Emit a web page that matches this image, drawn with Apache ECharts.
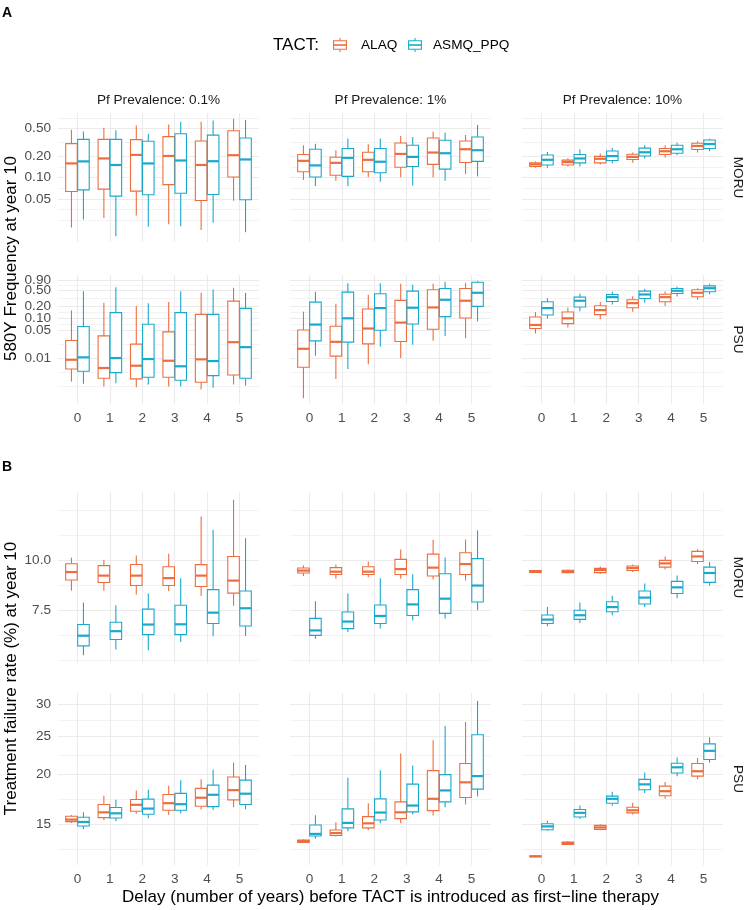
<!DOCTYPE html>
<html><head><meta charset="utf-8">
<script src="https://cdn.jsdelivr.net/npm/echarts@6/dist/echarts.min.js"></script>
<style>html,body{margin:0;padding:0;background:#fff}#c{width:750px;height:910px}</style>
</head><body><div id="c"></div>
<script>
// ---------------- data ----------------
const delays = [0, 1, 2, 3, 4, 5];
const prevalenceLabels = ['Pf Prevalence: 0.1%', 'Pf Prevalence: 1%', 'Pf Prevalence: 10%'];
const siteLabels = ['MORU', 'PSU'];
const tactNames = ['ALAQ', 'ASMQ_PPQ'];
const freqBreaks = [0.01, 0.05, 0.1, 0.2, 0.5, 0.9];
const failBreaks = [7.5, 10, 15, 20, 25, 30];

// each entry: [lower whisker, Q1, median, Q3, upper whisker] for delay 0..5
// A: 580Y frequency at year 10
const freq_MORU_01_ALAQ = [[0.0195,0.0633,0.159,0.304,0.479],[0.0267,0.0685,0.187,0.35,0.511],[0.029,0.0641,0.210,0.347,0.551],[0.0217,0.0794,0.203,0.382,0.569],[0.0179,0.0473,0.151,0.331,0.621],[0.0468,0.102,0.208,0.464,0.684]];
const freq_MORU_01_ASMQ = [[0.0253,0.0669,0.170,0.35,0.453],[0.0147,0.0545,0.151,0.35,0.473],[0.020,0.0569,0.159,0.328,0.415],[0.0203,0.060,0.175,0.421,0.621],[0.0227,0.0574,0.171,0.402,0.648],[0.0167,0.0484,0.181,0.365,0.662]];
const freq_MORU_1_ALAQ = [[0.0925,0.121,0.173,0.213,0.288],[0.0904,0.108,0.162,0.195,0.245],[0.102,0.121,0.179,0.229,0.297],[0.101,0.140,0.217,0.310,0.389],[0.101,0.154,0.227,0.365,0.449],[0.112,0.164,0.253,0.331,0.402]];
const freq_MORU_1_ASMQ = [[0.0762,0.102,0.149,0.253,0.304],[0.0762,0.104,0.191,0.259,0.361],[0.0875,0.117,0.168,0.259,0.361],[0.0769,0.144,0.197,0.288,0.377],[0.0904,0.132,0.222,0.339,0.435],[0.104,0.170,0.245,0.377,0.563]];
const freq_MORU_10_ALAQ = [[0.138,0.144,0.154,0.162,0.170],[0.144,0.151,0.166,0.177,0.189],[0.154,0.162,0.185,0.200,0.220],[0.162,0.181,0.197,0.215,0.227],[0.193,0.213,0.237,0.259,0.288],[0.227,0.251,0.282,0.308,0.328]];
const freq_MORU_10_ASMQ = [[0.138,0.151,0.179,0.210,0.232],[0.144,0.162,0.187,0.213,0.253],[0.159,0.175,0.202,0.239,0.264],[0.187,0.203,0.229,0.262,0.288],[0.208,0.222,0.253,0.288,0.314],[0.237,0.259,0.300,0.342,0.358]];
const freq_PSU_01_ALAQ = [[0.00256,0.0053,0.00907,0.0277,0.158],[0.00192,0.00311,0.00562,0.0361,0.247],[0.00185,0.00299,0.00642,0.0224,0.203],[0.00192,0.00329,0.00856,0.0455,0.256],[0.00161,0.00247,0.00928,0.126,0.439],[0.00215,0.00376,0.0251,0.271,0.586]];
const freq_PSU_01_ASMQ = [[0.00224,0.00465,0.0104,0.062,0.482],[0.00233,0.00429,0.0100,0.139,0.606],[0.00215,0.00329,0.00944,0.0708,0.241],[0.00192,0.00277,0.0062,0.139,0.482],[0.00178,0.00361,0.0084,0.126,0.531],[0.00203,0.00311,0.0188,0.178,0.439]];
const freq_PSU_1_ALAQ = [[0.00098,0.00586,0.0171,0.051,0.147],[0.00299,0.0112,0.0256,0.063,0.233],[0.00696,0.0228,0.0553,0.171,0.391],[0.0100,0.0262,0.078,0.282,0.737],[0.0271,0.053,0.188,0.522,0.737],[0.0316,0.1017,0.277,0.562,0.781]];
const freq_PSU_1_ASMQ = [[0.0114,0.0271,0.0696,0.256,0.465],[0.0053,0.0251,0.100,0.455,0.763],[0.0196,0.050,0.181,0.415,0.763],[0.0215,0.072,0.185,0.482,0.696],[0.0361,0.110,0.293,0.562,0.827],[0.084,0.1995,0.439,0.808,0.876]];
const freq_PSU_10_ALAQ = [[0.0415,0.0553,0.068,0.108,0.144],[0.0586,0.0737,0.100,0.144,0.188],[0.0944,0.124,0.161,0.208,0.256],[0.147,0.185,0.241,0.293,0.361],[0.203,0.262,0.341,0.405,0.473],[0.293,0.349,0.439,0.522,0.572]];
const freq_PSU_10_ASMQ = [[0.0984,0.121,0.181,0.262,0.322],[0.150,0.192,0.277,0.341,0.415],[0.224,0.266,0.341,0.398,0.465],[0.247,0.316,0.398,0.482,0.553],[0.355,0.422,0.493,0.562,0.620],[0.405,0.465,0.572,0.657,0.737]];

// B: treatment failure rate (%) at year 10
const fail_MORU_01_ALAQ = [[8.40,8.93,9.35,9.81,10.16],[8.40,8.80,9.16,9.70,10.02],[8.21,8.65,9.16,9.77,10.29],[8.37,8.65,9.03,9.64,10.39],[8.14,8.60,9.16,9.76,12.88],[7.70,8.28,8.90,10.23,14.18]];
const fail_MORU_01_ASMQ = [[5.79,6.11,6.48,6.91,7.84],[5.98,6.34,6.65,7.00,7.72],[5.96,6.52,6.91,7.55,8.26],[6.25,6.52,6.92,7.72,9.02],[6.46,6.95,7.40,8.45,11.93],[6.47,6.85,7.59,8.38,11.37]];
const fail_MORU_1_ALAQ = [[9.14,9.30,9.43,9.57,9.72],[9.00,9.22,9.37,9.59,9.76],[9.07,9.22,9.37,9.64,9.94],[9.00,9.22,9.51,10.06,10.65],[8.96,9.14,9.59,10.37,11.27],[8.90,9.22,9.79,10.45,11.28]];
const fail_MORU_1_ASMQ = [[6.37,6.49,6.68,7.16,7.90],[6.62,6.75,7.03,7.43,8.26],[6.75,6.95,7.26,7.73,9.02],[7.07,7.28,7.76,8.45,9.23],[7.15,7.37,8.02,9.26,10.17],[7.50,7.87,8.65,10.10,11.89]];
const fail_MORU_10_ALAQ = [[9.32,9.33,9.39,9.43,9.46],[9.29,9.32,9.39,9.45,9.49],[9.24,9.32,9.46,9.55,9.66],[9.35,9.43,9.57,9.68,9.76],[9.49,9.62,9.83,10.00,10.23],[9.79,9.94,10.23,10.53,10.67]];
const fail_MORU_10_ASMQ = [[6.84,6.95,7.11,7.30,7.64],[6.97,7.12,7.29,7.50,7.84],[7.29,7.44,7.64,7.88,8.16],[7.64,7.78,8.07,8.38,8.75],[8.04,8.26,8.56,8.86,9.16],[8.65,8.81,9.30,9.62,9.90]];
const fail_PSU_01_ALAQ = [[15.15,15.26,15.44,15.74,15.86],[15.41,15.62,16.10,16.84,17.71],[15.96,16.20,16.81,17.34,18.26],[15.86,16.29,16.97,17.84,18.76],[16.36,16.67,17.51,18.48,19.46],[16.58,17.30,18.29,19.72,21.43]];
const fail_PSU_01_ASMQ = [[14.63,14.88,15.23,15.65,16.10],[15.32,15.59,16.01,16.55,17.30],[15.55,15.92,16.45,17.37,18.34],[15.99,16.29,16.87,17.95,19.35],[16.35,16.64,17.81,18.83,20.59],[16.39,16.84,17.92,19.38,21.14]];
const fail_PSU_1_ALAQ = [[13.51,13.54,13.65,13.73,13.78],[14.01,14.09,14.29,14.55,15.20],[14.55,14.72,15.11,15.71,16.97],[15.11,15.53,16.10,17.10,22.59],[15.80,16.26,17.40,20.46,24.37],[16.84,17.53,19.13,21.31,27.07]];
const fail_PSU_1_ASMQ = [[13.83,14.05,14.22,14.97,15.83],[14.43,14.72,15.15,16.42,19.65],[15.11,15.41,16.08,17.40,20.51],[15.92,16.14,16.74,18.94,21.07],[16.58,17.10,18.26,20.00,26.45],[17.64,18.40,19.83,25.15,30.57]];
const fail_PSU_10_ALAQ = [[12.44,12.47,12.50,12.53,12.56],[13.34,13.38,13.49,13.57,13.65],[14.52,14.60,14.76,14.94,15.02],[15.89,16.05,16.29,16.58,17.00],[17.40,17.71,18.18,18.72,19.16],[19.46,19.83,20.39,21.31,22.00]];
const fail_PSU_10_ASMQ = [[14.49,14.57,14.85,15.08,15.35],[15.50,15.68,16.05,16.36,16.74],[16.71,16.97,17.40,17.67,18.13],[17.98,18.34,18.91,19.46,20.23],[19.80,20.18,20.86,21.35,22.06],[21.43,21.82,22.93,23.87,24.77]];

// ---------------- layout / style ----------------
const FONT = '"Liberation Sans", Arial, Helvetica, sans-serif';
const COLORS = ['#EE6D3F', '#1AA9CC'];
const GRID_COLOR = '#EBEBEB';
const SMALL = 13.6, BIG = 17;
const colLeft = [58, 290, 522];
const colWidth = 201;
const rowTop = [113, 275, 492, 693];
const rowHeight = [129, 129, 171, 172];

const rows = [
  { breaks: freqBreaks, dec: 2, panels: [[freq_MORU_01_ALAQ, freq_MORU_01_ASMQ], [freq_MORU_1_ALAQ, freq_MORU_1_ASMQ], [freq_MORU_10_ALAQ, freq_MORU_10_ASMQ]], xLabels: false },
  { breaks: freqBreaks, dec: 2, panels: [[freq_PSU_01_ALAQ, freq_PSU_01_ASMQ], [freq_PSU_1_ALAQ, freq_PSU_1_ASMQ], [freq_PSU_10_ALAQ, freq_PSU_10_ASMQ]], xLabels: true },
  { breaks: failBreaks, dec: 1, panels: [[fail_MORU_01_ALAQ, fail_MORU_01_ASMQ], [fail_MORU_1_ALAQ, fail_MORU_1_ASMQ], [fail_MORU_10_ALAQ, fail_MORU_10_ASMQ]], xLabels: false },
  { breaks: failBreaks, dec: 0, panels: [[fail_PSU_01_ALAQ, fail_PSU_01_ASMQ], [fail_PSU_1_ALAQ, fail_PSU_1_ASMQ], [fail_PSU_10_ALAQ, fail_PSU_10_ASMQ]], xLabels: true }
];

function rowLimits(row) {
  let lo = Infinity, hi = -Infinity;
  row.panels.forEach(p => p.forEach(s => s.forEach(b => b.forEach(v => {
    const l = Math.log10(v); if (l < lo) lo = l; if (l > hi) hi = l;
  }))));
  const e = (hi - lo) * 0.05;
  return [Math.pow(10, lo - e), Math.pow(10, hi + e)];
}
function minorBreaks(majors, lo, hi) {
  let b = majors.map(Math.log10);
  const L = Math.log10(lo), H = Math.log10(hi);
  const bd = b[1] - b[0];
  if (L < b[0]) b = [b[0] - bd].concat(b);
  if (H > b[b.length - 1]) b = b.concat([b[b.length - 1] + bd]);
  const out = [];
  for (let i = 0; i < b.length - 1; i++) { out.push(b[i], (b[i] + b[i + 1]) / 2); }
  out.push(b[b.length - 1]);
  return out.map(v => Math.pow(10, v)).filter(v => v >= lo && v <= hi && !majors.some(m => Math.abs(m - v) / m < 1e-6));
}

const BOX_OFF = 0.185, BOX_HALF = 0.178;
function makeRender(off, color) {
  return function (params, api) {
    const x = api.value(0) + off;
    const v = [api.value(1), api.value(2), api.value(3), api.value(4), api.value(5)];
    const p = v.map(val => api.coord([x, val]));
    const left = api.coord([x - BOX_HALF, v[2]])[0];
    const right = api.coord([x + BOX_HALF, v[2]])[0];
    const cx = p[0][0];
    return {
      type: 'group', children: [
        { type: 'line', shape: { x1: cx, y1: p[4][1], x2: cx, y2: p[3][1] }, style: { stroke: color, lineWidth: 1.1 } },
        { type: 'line', shape: { x1: cx, y1: p[1][1], x2: cx, y2: p[0][1] }, style: { stroke: color, lineWidth: 1.1 } },
        { type: 'rect', shape: { x: left, y: p[3][1], width: right - left, height: Math.max(p[1][1] - p[3][1], 0.5) }, style: { fill: '#fff', stroke: color, lineWidth: 1.1 } },
        { type: 'line', shape: { x1: left, y1: p[2][1], x2: right, y2: p[2][1] }, style: { stroke: color, lineWidth: 2.2 } }
      ]
    };
  };
}

const grids = [], xAxes = [], yAxes = [], series = [];
rows.forEach((row, r) => {
  const [lo, hi] = rowLimits(row);
  const majors = row.breaks.filter(b => b >= lo && b <= hi);
  const minors = minorBreaks(majors, lo, hi);
  // split major labels over the two stacked axes so neighbours never collide
  const labelsA = majors.filter((m, i) => i % 2 === 0);
  const labelsB = majors.filter((m, i) => i % 2 === 1);
  const fmt = v => Number(v).toFixed(row.dec);
  row.panels.forEach((panel, c) => {
    const g = grids.length;
    grids.push({ left: colLeft[c], top: rowTop[r], width: colWidth, height: rowHeight[r], containLabel: false, outerBoundsMode: 'none' });
    xAxes.push({
      type: 'value', gridIndex: g, min: -0.6, max: 5.6,
      axisLine: { show: false }, axisTick: { show: false, customValues: delays },
      axisLabel: { show: row.xLabels, customValues: delays, hideOverlap: false, color: '#4D4D4D', fontSize: SMALL, fontFamily: FONT, margin: 7, formatter: v => String(v) },
      splitLine: { show: true, lineStyle: { color: GRID_COLOR, width: 1.1 } }
    });
    yAxes.push({
      type: 'log', logBase: 10, gridIndex: g, position: 'left', offset: 0, min: lo, max: hi,
      axisLine: { show: false }, axisTick: { show: false, customValues: majors },
      axisLabel: { show: c === 0, customValues: labelsA, hideOverlap: false, color: '#4D4D4D', fontSize: SMALL, fontFamily: FONT, margin: 7, formatter: fmt },
      splitLine: { show: true, lineStyle: { color: GRID_COLOR, width: 1.1 } }
    });
    yAxes.push({
      type: 'log', logBase: 10, gridIndex: g, position: 'left', offset: 0, min: lo, max: hi,
      axisLine: { show: false }, axisTick: { show: false, customValues: minors },
      axisLabel: { show: c === 0, customValues: labelsB, hideOverlap: false, color: '#4D4D4D', fontSize: SMALL, fontFamily: FONT, margin: 7, formatter: fmt },
      splitLine: { show: true, lineStyle: { color: GRID_COLOR, width: 0.6 } }
    });
    panel.forEach((stats, s) => {
      series.push({
        type: 'custom', name: tactNames[s], xAxisIndex: g, yAxisIndex: 2 * g, z: 5,
        renderItem: makeRender(s === 0 ? -BOX_OFF : BOX_OFF, COLORS[s]),
        encode: { x: 0, y: [1, 2, 3, 4, 5] },
        data: delays.map((d, i) => [d].concat(stats[i])),
        silent: true
      });
    });
  });
});

// ---------------- text & legend ----------------
const graphic = [];
function txt(text, x, y, opt) {
  opt = opt || {};
  graphic.push({
    type: 'text', x: x, y: y, rotation: opt.rot || 0, silent: true,
    style: { text: text, fill: opt.fill || '#000', font: (opt.weight || 'normal') + ' ' + (opt.size || SMALL) + 'px ' + FONT, align: opt.align || 'center', verticalAlign: 'middle' }
  });
}
txt('A', 2, 13, { weight: 'bold', size: 14, align: 'left' });
txt('B', 2, 467, { weight: 'bold', size: 14, align: 'left' });
// legend
txt('TACT:', 273, 45, { size: BIG, align: 'left' });
const legendIcons = [340, 415];
const legendLabelX = [361, 433];
legendIcons.forEach((cx, i) => {
  const col = COLORS[i];
  graphic.push({ type: 'line', silent: true, shape: { x1: cx, y1: 38, x2: cx, y2: 52 }, style: { stroke: col, lineWidth: 1.1 } });
  graphic.push({ type: 'rect', silent: true, shape: { x: cx - 6.4, y: 40.7, width: 12.8, height: 8.6 }, style: { fill: '#fff', stroke: col, lineWidth: 1.1 } });
  graphic.push({ type: 'line', silent: true, shape: { x1: cx - 6.4, y1: 45, x2: cx + 6.4, y2: 45 }, style: { stroke: col, lineWidth: 1.6 } });
  txt(tactNames[i], legendLabelX[i], 45, { size: SMALL, align: 'left' });
});
// strips
prevalenceLabels.forEach((lab, c) => txt(lab, colLeft[c] + colWidth / 2, 100, { size: SMALL, fill: '#1A1A1A' }));
[0, 1, 2, 3].forEach(r => txt(siteLabels[r % 2], 738, rowTop[r] + rowHeight[r] / 2, { size: SMALL, fill: '#1A1A1A', rot: -Math.PI / 2 }));
// axis titles
txt('580Y Frequency at year 10', 11, (rowTop[0] + rowTop[1] + rowHeight[1]) / 2, { size: BIG, rot: Math.PI / 2 });
txt('Treatment failure rate (%) at year 10', 11, (rowTop[2] + rowTop[3] + rowHeight[3]) / 2, { size: BIG, rot: Math.PI / 2 });
txt('Delay (number of years) before TACT is introduced as first\u2212line therapy', (colLeft[0] + colLeft[2] + colWidth) / 2, 897, { size: BIG });

const chart = echarts.init(document.getElementById('c'), null, { renderer: 'canvas' });
chart.setOption({
  animation: false,
  backgroundColor: '#fff',
  grid: grids, xAxis: xAxes, yAxis: yAxes, series: series,
  graphic: graphic
});
</script></body></html>
